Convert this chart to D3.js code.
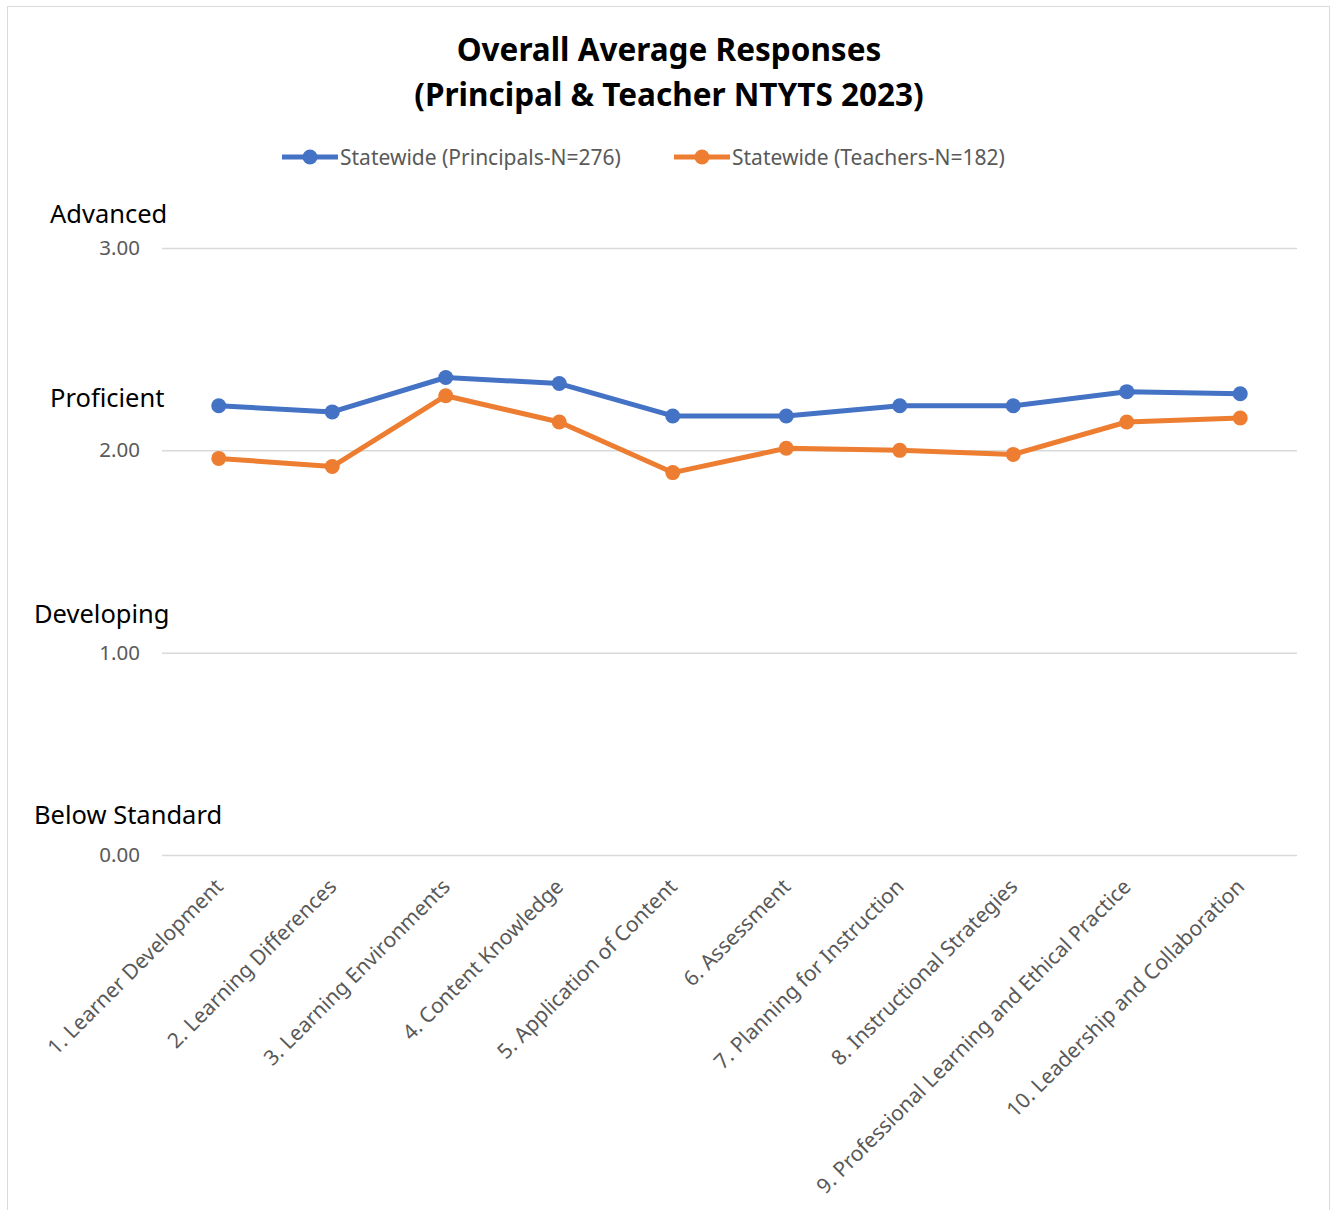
<!DOCTYPE html>
<html>
<head>
<meta charset="utf-8">
<script src="https://cdn.jsdelivr.net/npm/d3@7"></script>
<style>
  html, body { margin: 0; padding: 0; background: #fff; }
  svg { display: block; font-family: "Noto Sans", "Open Sans", sans-serif; }
</style>
</head>
<body>
<svg id="chart" width="1336" height="1210"></svg>
<script>
// Standards rated in the survey
const categories = [
  "1. Learner Development",
  "2. Learning Differences",
  "3. Learning Environments",
  "4. Content Knowledge",
  "5. Application of Content",
  "6. Assessment",
  "7. Planning for Instruction",
  "8. Instructional Strategies",
  "9. Professional Learning and Ethical Practice",
  "10. Leadership and Collaboration"
];

// Average responses per standard
const principals = [2.22, 2.19, 2.36, 2.33, 2.17, 2.17, 2.22, 2.22, 2.29, 2.28];
const teachers   = [1.96, 1.92, 2.27, 2.14, 1.89, 2.01, 2.00, 1.98, 2.14, 2.16];

const seriesNames = ["Statewide (Principals-N=276)", "Statewide (Teachers-N=182)"];
const seriesColors = ["#4472C4", "#ED7D31"];

// Y axis ticks and the rating level shown above each tick
const yTicks = [0, 1, 2, 3];
const tickLabels = ["0.00", "1.00", "2.00", "3.00"];
const levelNames = ["Below Standard", "Developing", "Proficient", "Advanced"];
const levelValues = [0.2, 1.19, 2.26, 3.17];

const svg = d3.select("#chart");
const W = 1336, H = 1210;
const margin = { left: 162, right: 39, top: 248, bottom: 355 };

// Outer chart frame
svg.append("rect")
  .attr("x", 7.5).attr("y", 6.5)
  .attr("width", 1322).attr("height", 1215)
  .attr("fill", "#fff").attr("stroke", "#d9d9d9").attr("stroke-width", 1);

const x = d3.scalePoint()
  .domain(categories)
  .range([margin.left, W - margin.right])
  .padding(0.5);

const y = d3.scaleLinear()
  .domain([0, 3])
  .range([H - margin.bottom, margin.top]);

// Title
const title = svg.append("text")
  .attr("x", 669).attr("text-anchor", "middle")
  .attr("font-weight", "bold").attr("font-size", 31.5).attr("fill", "#000");
title.append("tspan").attr("x", 669).attr("y", 61).text("Overall Average Responses");
title.append("tspan").attr("x", 669).attr("y", 106).text("(Principal & Teacher NTYTS 2023)");

// Gridlines and tick labels
const yAxis = d3.axisLeft(y)
  .tickValues(yTicks)
  .tickSize(-(W - margin.left - margin.right))
  .tickPadding(22)
  .tickFormat((d, i) => tickLabels[i]);

const gy = svg.append("g")
  .attr("transform", `translate(${margin.left},0)`)
  .call(yAxis);
gy.select(".domain").remove();
gy.selectAll(".tick line").attr("stroke", "#d9d9d9").attr("stroke-width", 1.5);
gy.selectAll(".tick text")
  .attr("fill", "#595959").attr("font-size", 20.5).attr("font-family", "Noto Sans, sans-serif");

// Rating level names
const levelX = [34, 34, 50, 50];
svg.append("g").selectAll("text")
  .data(levelNames)
  .join("text")
  .attr("x", (d, i) => levelX[i])
  .attr("y", (d, i) => y(levelValues[i]) + 9)
  .attr("font-size", 25.5)
  .attr("fill", "#000")
  .text(d => d);

// Category labels, rotated
const xAxis = d3.axisBottom(x).tickSize(0).tickPadding(0);
const gx = svg.append("g")
  .attr("transform", `translate(0,${H - margin.bottom})`)
  .call(xAxis);
gx.select(".domain").remove();
gx.selectAll(".tick text")
  .attr("font-size", 21)
  .attr("font-family", "Noto Sans, sans-serif")
  .attr("fill", "#595959")
  .attr("text-anchor", "end")
  .attr("dy", null)
  .attr("transform", "translate(5,33) rotate(-45)");

// Lines and markers
const series = [principals, teachers];
const line = d3.line()
  .x((d, i) => x(categories[i]))
  .y(d => y(d));

series.forEach((vals, s) => {
  svg.append("path")
    .datum(vals)
    .attr("fill", "none")
    .attr("stroke", seriesColors[s])
    .attr("stroke-width", 5)
    .attr("stroke-linejoin", "round")
    .attr("stroke-linecap", "round")
    .attr("d", line);
  svg.append("g").selectAll("circle")
    .data(vals)
    .join("circle")
    .attr("cx", (d, i) => x(categories[i]))
    .attr("cy", d => y(d))
    .attr("r", 7.5)
    .attr("fill", seriesColors[s]);
});

// Legend
const legendX = [282, 674];
const leg = svg.append("g").selectAll("g")
  .data(seriesNames)
  .join("g")
  .attr("transform", (d, i) => `translate(${legendX[i]},157)`);
leg.append("line")
  .attr("x1", 0).attr("x2", 56)
  .attr("stroke", (d, i) => seriesColors[i])
  .attr("stroke-width", 5);
leg.append("circle")
  .attr("cx", 28).attr("r", 7.5)
  .attr("fill", (d, i) => seriesColors[i]);
leg.append("text")
  .attr("x", 58).attr("y", 7.5)
  .attr("font-size", 21)
  .attr("fill", "#595959")
  .text(d => d);
</script>
</body>
</html>
